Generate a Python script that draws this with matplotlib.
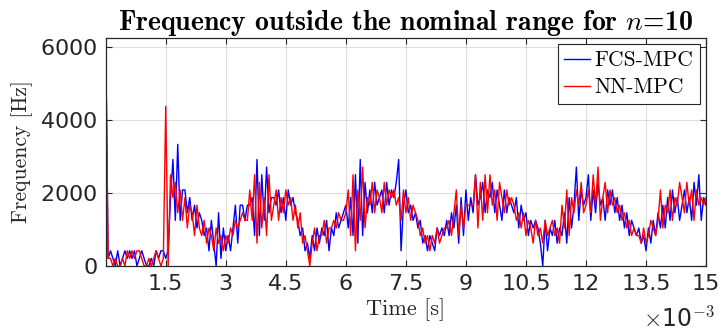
import numpy as np
import matplotlib
matplotlib.use("Agg")
import matplotlib.pyplot as plt
from matplotlib.ticker import FuncFormatter

plt.rcParams['mathtext.fontset'] = 'cm'
plt.rcParams['axes.formatter.use_mathtext'] = True

# frequency is counted in steps of 6250/30 Hz, values below are read as step counts
step_hz = 6250 / 30
dt_ms = 0.06

fcs_counts = [30, 1, 2, 1, 0, 2, 0, 1, 2, 1,
              2, 1, 2, 0, 1, 2, 1, 0, 0, 1,
              0, 2, 1, 2, 2, 1, 2, 9, 14, 6,
              16, 6, 10, 10, 7, 9, 6, 8, 5, 7,
              6, 4, 5, 2, 6, 3, 0, 7, 1, 5,
              2, 4, 2, 5, 8, 3, 8, 8, 6, 8,
              8, 9, 4, 14, 4, 12, 6, 13, 7, 9,
              9, 8, 10, 7, 9, 6, 10, 8, 9, 7,
              6, 4, 5, 2, 3, 1, 4, 2, 5, 3,
              5, 4, 6, 2, 5, 4, 7, 5, 6, 7,
              8, 5, 9, 4, 12, 3, 14, 4, 11, 7,
              10, 7, 11, 8, 9, 10, 7, 11, 8, 10,
              9, 11, 14, 2, 8, 10, 7, 8, 6, 7,
              5, 6, 3, 4, 2, 4, 3, 2, 5, 4,
              5, 4, 6, 4, 7, 5, 8, 3, 9, 4,
              10, 6, 9, 7, 12, 8, 9, 11, 7, 10,
              9, 11, 7, 10, 8, 6, 10, 7, 9, 8,
              7, 9, 5, 8, 6, 7, 4, 6, 5, 6,
              5, 3, 0, 6, 2, 5, 4, 6, 3, 5,
              4, 7, 3, 9, 5, 8, 13, 6, 10, 8,
              9, 12, 6, 10, 7, 11, 8, 9, 6, 10,
              8, 10, 7, 9, 6, 8, 5, 7, 4, 6,
              5, 4, 5, 3, 4, 2, 5, 3, 6, 4,
              7, 5, 8, 5, 9, 6, 10, 7, 9, 6,
              8, 10, 7, 9, 6, 11, 8, 12, 6, 9, 8]

nn_counts = [30, 1, 1, 0, 1, 0, 0, 1, 0, 2,
             1, 2, 1, 2, 2, 1, 0, 0, 1, 0,
             1, 2, 1, 0, 1, 21, 0, 12, 9, 11,
             7, 10, 6, 9, 5, 8, 7, 4, 8, 5,
             4, 6, 3, 5, 4, 2, 5, 3, 4, 2,
             4, 3, 5, 4, 6, 5, 6, 7, 6, 6,
             10, 6, 12, 3, 11, 5, 9, 4, 12, 6,
             8, 10, 6, 9, 7, 10, 8, 9, 6, 8,
             5, 7, 3, 4, 2, 0, 3, 5, 2, 4,
             4, 6, 3, 5, 5, 6, 5, 7, 6, 6,
             7, 10, 4, 12, 2, 10, 6, 13, 5, 9,
             8, 11, 7, 10, 9, 7, 11, 8, 10, 9,
             10, 8, 9, 6, 10, 7, 9, 6, 8, 7,
             6, 4, 5, 3, 4, 2, 4, 3, 5, 3,
             4, 5, 5, 6, 4, 7, 10, 4, 8, 5,
             8, 8, 8, 8, 12, 5, 11, 6, 12, 7,
             12, 8, 10, 6, 11, 9, 7, 10, 8, 9,
             8, 6, 7, 5, 7, 4, 6, 5, 3, 6,
             4, 5, 3, 6, 4, 5, 6, 4, 5, 3,
             8, 5, 10, 4, 9, 7, 10, 8, 11, 7,
             8, 10, 7, 12, 8, 13, 6, 9, 11, 7,
             10, 8, 9, 7, 8, 6, 7, 5, 6, 4,
             5, 4, 4, 3, 5, 3, 4, 6, 5, 4,
             6, 10, 5, 8, 7, 10, 6, 9, 8, 11,
             9, 7, 11, 8, 10, 6, 10, 8, 9, 8, 9]

t = np.arange(len(fcs_counts)) * dt_ms * 1e-3
fcs = np.array(fcs_counts) * step_hz
nn = np.array(nn_counts) * step_hz

dark = (0.15, 0.15, 0.15)

fig = plt.figure(figsize=(7.19, 3.35), dpi=100)
ax = fig.add_axes([0.147, 0.206, 0.835, 0.681])

ax.plot(t, fcs, color=(0, 0, 1), lw=1.0, label='FCS-MPC')
ax.plot(t, nn, color=(1, 0, 0), lw=1.0, label='NN-MPC')

ax.set_xlim(0, 15e-3)
ax.set_ylim(0, 6250)
ax.set_xticks(np.arange(1.5, 15.01, 1.5) * 1e-3)
ax.set_yticks([0, 2000, 4000, 6000])
ax.xaxis.set_major_formatter(FuncFormatter(lambda v, p: f"{v*1e3:g}"))
ax.tick_params(direction='in', top=True, right=True, length=4, width=0.8,
               labelsize=16, colors=dark, pad=6)
ax.grid(True, color=dark, alpha=0.15, lw=0.8)
for s in ax.spines.values():
    s.set_color(dark)
    s.set_linewidth(0.9)

ax.set_title(r'Frequency outside the nominal range for $n$=10',
             fontfamily='cmb10', fontsize=20, pad=6)
ax.set_xlabel('Time [s]', fontfamily='cmr10', fontsize=16, color=dark, labelpad=3)
ax.set_ylabel('Frequency [Hz]', fontfamily='cmr10', fontsize=15.5, color=dark, labelpad=5)
fig.text(0.995, 0.01, r'$\times$10$^{\mathsf{-3}}$', ha='right', va='bottom',
         fontsize=17, color=dark)

leg = ax.legend(loc='upper right', prop={'family': 'cmr10', 'size': 15.5},
                frameon=True, fancybox=False, edgecolor=dark, framealpha=1,
                handlelength=1.2, borderaxespad=0.3, borderpad=0.3,
                labelspacing=0.35, handletextpad=0.2)
leg.get_frame().set_linewidth(0.8)

fig.savefig('out.png', dpi=100)
